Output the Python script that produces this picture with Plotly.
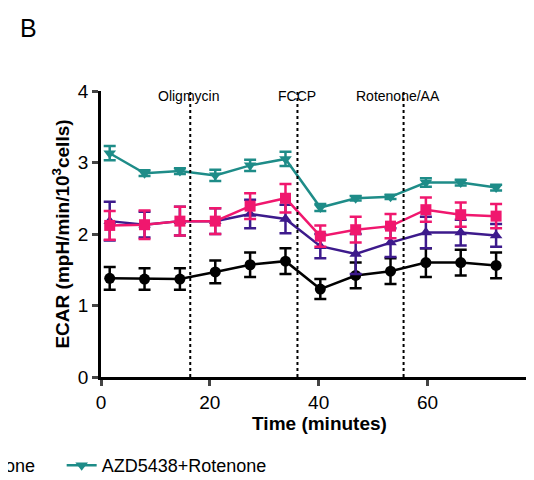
import plotly.graph_objects as go

time = [1.6, 8.0, 14.5, 21.0, 27.4, 33.9, 40.3, 46.8, 53.2, 59.7, 66.1, 72.6]
black = [1.38, 1.37, 1.37, 1.47, 1.57, 1.62, 1.23, 1.42, 1.48, 1.60, 1.60, 1.56]
black_err = [0.16, 0.15, 0.15, 0.16, 0.17, 0.18, 0.14, 0.18, 0.18, 0.20, 0.18, 0.18]
purple = [2.18, 2.13, 2.18, 2.18, 2.28, 2.21, 1.83, 1.72, 1.88, 2.02, 2.02, 1.98]
purple_err = [0.27, 0.18, 0.2, 0.18, 0.2, 0.2, 0.17, 0.28, 0.2, 0.22, 0.18, 0.16]
pink = [2.12, 2.13, 2.18, 2.18, 2.39, 2.50, 1.97, 2.06, 2.11, 2.34, 2.27, 2.25]
pink_err = [0.2, 0.2, 0.2, 0.18, 0.18, 0.2, 0.15, 0.18, 0.17, 0.17, 0.17, 0.17]
teal = [3.13, 2.85, 2.88, 2.82, 2.96, 3.05, 2.37, 2.50, 2.52, 2.72, 2.72, 2.65]
teal_err = [0.1, 0.04, 0.04, 0.08, 0.08, 0.1, 0.05, 0.03, 0.03, 0.06, 0.04, 0.04]
injections = [16.4, 36.1, 55.6]
injection_labels = ["Oligmycin", "FCCP", "Rotenone/AA"]
label_x = [16.0, 36.1, 54.5]

fig = go.Figure()
series = [
    ("DMSO", black, black_err, "#000000", "circle", False),
    ("Rotenone", purple, purple_err, "#3d1a8c", "triangle-up", False),
    ("AZD5438", pink, pink_err, "#f0176e", "square", False),
    ("AZD5438+Rotenone", teal, teal_err, "#1e8c88", "triangle-down", True),
]
for name, y, e, c, sym, show in series:
    fig.add_trace(go.Scatter(
        x=time, y=y, name=name, mode="lines+markers", showlegend=show,
        line=dict(color=c, width=2.5), marker=dict(color=c, symbol=sym, size=11),
        error_y=dict(type="data", array=e, color=c, thickness=2.5, width=6)))

for xv in injections:
    fig.add_shape(type="line", x0=xv, x1=xv, y0=0, y1=4, xref="x", yref="y",
                  line=dict(color="black", width=2, dash="dot"))
for t, xv in zip(injection_labels, label_x):
    fig.add_annotation(x=xv, y=3.93, text=t, showarrow=False, xref="x", yref="y",
                       xanchor="center", font=dict(size=14, color="black"))

fig.add_annotation(x=-0.19, y=1.22, xref="paper", yref="paper", text="B", showarrow=False,
                   font=dict(size=25, color="black"), xanchor="left", yanchor="middle")
fig.add_annotation(x=-0.225, y=-0.31, xref="paper", yref="paper", text="one", showarrow=False,
                   font=dict(size=18, color="black"), xanchor="left", yanchor="middle")

fig.update_layout(
    width=534, height=480, margin=dict(l=93, r=4, t=83, b=107),
    plot_bgcolor="white", paper_bgcolor="white",
    font=dict(family="Liberation Sans, Arial", color="black"),
    legend=dict(orientation="h", x=-0.09, y=-0.31, xanchor="left", yanchor="middle",
                font=dict(size=18)),
    xaxis=dict(range=[0, 80.3], tickvals=[0, 20, 40, 60, 80], showline=True, linecolor="black",
               linewidth=2.5, ticks="outside", tickwidth=2.5, ticklen=6, showgrid=False,
               zeroline=False, tickfont=dict(size=19),
               title=dict(text="<b>Time (minutes)</b>", font=dict(size=19), standoff=6)),
    yaxis=dict(range=[0, 4], tickvals=[0, 1, 2, 3, 4], showline=True, linecolor="black",
               linewidth=2.5, ticks="outside", tickwidth=2.5, ticklen=6, showgrid=False,
               zeroline=False, tickfont=dict(size=19),
               title=dict(text="<b>ECAR (mpH/min/10<sup>3</sup>cells)</b>", font=dict(size=19), standoff=4)),
)
fig.update_xaxes(tickprefix="<b>", ticksuffix="</b>")
fig.update_yaxes(tickprefix="<b>", ticksuffix="</b>")
fig.write_html("out.html")
